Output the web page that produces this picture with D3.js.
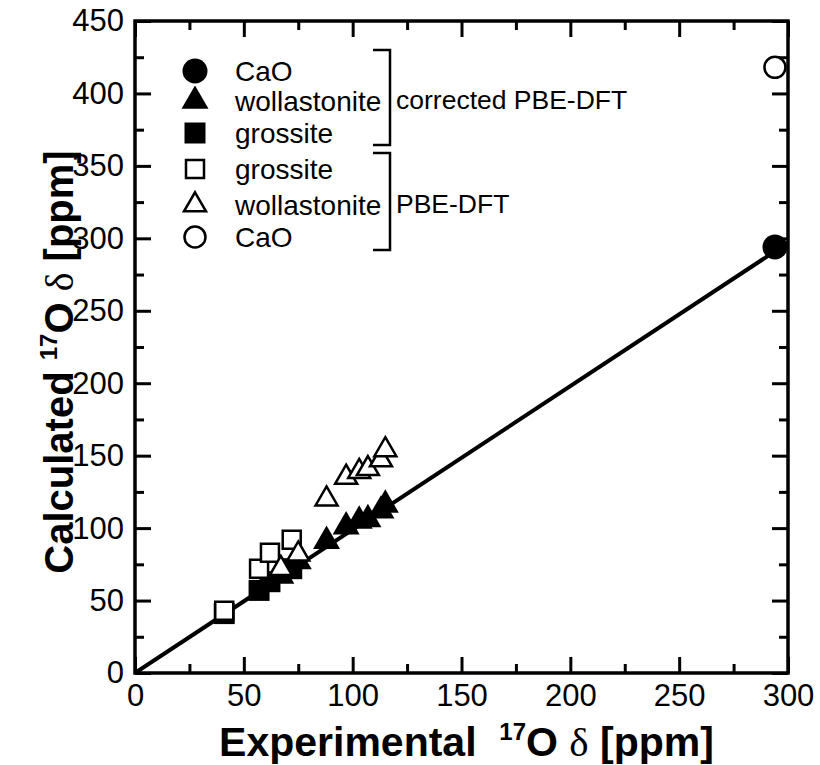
<!DOCTYPE html>
<html>
<head>
<meta charset="utf-8">
<script src="https://cdn.jsdelivr.net/npm/d3@7"></script>
<style>
  body { margin: 0; background: #fff; }
  text { font-family: "Liberation Sans", Arial, Helvetica, sans-serif; fill: #000; }
</style>
</head>
<body>
<svg id="chart" width="820" height="765"></svg>
<script>
// values (ppm)
const caoExp = [294]
const caoPBE = [418]
const caoCorr = [294]

const wollExp = [67, 75, 88, 97, 103, 107, 113, 115]
const wollPBE = [72, 82, 120, 135, 139, 141, 147, 154]
const wollCorr = [67, 77, 91, 101, 105, 106, 112, 116]

const grossExp = [41, 57, 62, 72]
const grossPBE = [43, 72, 83, 92]
const grossCorr = [41, 57, 63, 72]

const fitLine = [[0, 0], [300, 297]]

const majorTicks = [0, 50, 100, 150, 200, 250, 300, 350, 400, 450]
const minorTicks = [25, 75, 125, 175, 225, 275, 325, 375, 425]

const legendRows = [
  { label: "CaO", shape: "circle", filled: true },
  { label: "wollastonite", shape: "triangle", filled: true },
  { label: "grossite", shape: "square", filled: true },
  { label: "grossite", shape: "square", filled: false },
  { label: "wollastonite", shape: "triangle", filled: false },
  { label: "CaO", shape: "circle", filled: false }
]

const svg = d3.select("#chart")

// plot box in pixels (note: "top" is taken by window.top)
const pLeft = 135, pRight = 788, pTop = 21, pBottom = 673

const x = d3.scaleLinear().domain([0, 300]).range([pLeft, pRight])
const y = d3.scaleLinear().domain([0, 450]).range([pBottom, pTop])

// symbol sizes (area)
const SYM = {
  circle: { filled: d3.symbol(d3.symbolCircle, Math.PI * 12.5 * 12.5), open: d3.symbol(d3.symbolCircle, Math.PI * 10.5 * 10.5) },
  triangle: { filled: d3.symbol(d3.symbolTriangle, 27 * 27 * Math.sqrt(3) / 4), open: d3.symbol(d3.symbolTriangle, 22 * 22 * Math.sqrt(3) / 4) },
  square: { filled: d3.symbol(d3.symbolSquare, 21 * 21), open: d3.symbol(d3.symbolSquare, 18 * 18) }
}

function drawAxis(axisGen, tx, ty, cls) {
  const g = svg.append("g")
    .attr("class", cls)
    .attr("transform", `translate(${tx},${ty})`)
    .call(axisGen)
  g.selectAll(".tick line").attr("stroke", "#000").attr("stroke-width", 3)
  g.select(".domain").remove()
  g.selectAll("text").style("font-size", "31px").attr("fill", "#000")
  return g
}

// major + minor ticks on all four sides, pointing inward
const xMaj = majorTicks.filter(d => d <= 300)
const xMin = minorTicks.filter(d => d <= 300)

drawAxis(d3.axisBottom(x).tickValues(xMaj).tickSize(-16).tickPadding(11).tickFormat(d3.format("d")), 0, pBottom, "xb")
drawAxis(d3.axisBottom(x).tickValues(xMin).tickSize(-9).tickFormat(""), 0, pBottom, "xbm")
drawAxis(d3.axisTop(x).tickValues(xMaj).tickSize(-16).tickFormat(""), 0, pTop, "xt")
drawAxis(d3.axisTop(x).tickValues(xMin).tickSize(-9).tickFormat(""), 0, pTop, "xtm")

drawAxis(d3.axisLeft(y).tickValues(majorTicks).tickSize(-16).tickPadding(11).tickFormat(d3.format("d")), pLeft, 0, "yl")
drawAxis(d3.axisLeft(y).tickValues(minorTicks).tickSize(-9).tickFormat(""), pLeft, 0, "ylm")
drawAxis(d3.axisRight(y).tickValues(majorTicks).tickSize(-16).tickFormat(""), pRight, 0, "yr")
drawAxis(d3.axisRight(y).tickValues(minorTicks).tickSize(-9).tickFormat(""), pRight, 0, "yrm")

// frame
svg.append("rect")
  .attr("x", pLeft).attr("y", pTop)
  .attr("width", pRight - pLeft).attr("height", pBottom - pTop)
  .attr("fill", "none").attr("stroke", "#000").attr("stroke-width", 3.5)

// clip so markers at the edge get cut like in the original
svg.append("clipPath").attr("id", "plotclip")
  .append("rect").attr("x", pLeft).attr("y", pTop)
  .attr("width", pRight - pLeft).attr("height", pBottom - pTop)

const plot = svg.append("g").attr("clip-path", "url(#plotclip)")

plot.append("path")
  .datum(fitLine)
  .attr("d", d3.line().x(d => x(d[0])).y(d => y(d[1])))
  .attr("stroke", "#000").attr("stroke-width", 4).attr("fill", "none")

function drawSeries(xs, ys, shape, filled) {
  const pts = xs.map((v, i) => [v, ys[i]])
  plot.append("g").selectAll("path")
    .data(pts)
    .join("path")
    .attr("transform", d => `translate(${x(d[0])},${y(d[1])})`)
    .attr("d", filled ? SYM[shape].filled : SYM[shape].open)
    .attr("fill", filled ? "#000" : "#fff")
    .attr("stroke", "#000")
    .attr("stroke-width", filled ? 0 : 2.5)
}

// filled (corrected) first, open (plain PBE) on top
drawSeries(grossExp, grossCorr, "square", true)
drawSeries(wollExp, wollCorr, "triangle", true)
drawSeries(caoExp, caoCorr, "circle", true)
drawSeries(grossExp, grossPBE, "square", false)
drawSeries(wollExp, wollPBE, "triangle", false)
drawSeries(caoExp, caoPBE, "circle", false)

// legend
const rowY = [71, 101, 133, 169, 205, 237]
const leg = svg.append("g")
legendRows.forEach((r, i) => {
  leg.append("path")
    .attr("transform", `translate(195,${rowY[i]})`)
    .attr("d", r.filled ? SYM[r.shape].filled : SYM[r.shape].open)
    .attr("fill", r.filled ? "#000" : "#fff")
    .attr("stroke", "#000")
    .attr("stroke-width", r.filled ? 0 : 2.5)
  leg.append("text")
    .attr("x", 235).attr("y", rowY[i])
    .attr("dy", "0.35em")
    .style("font-size", "28px")
    .text(r.label)
})

// brackets
function bracket(y1, y2) {
  leg.append("path")
    .attr("d", `M373,${y1}H390V${y2}H373`)
    .attr("fill", "none").attr("stroke", "#000").attr("stroke-width", 2.5)
}
bracket(50, 145)
bracket(153, 250)

leg.append("text").attr("x", 396).attr("y", 100).attr("dy", "0.35em")
  .style("font-size", "26.5px").text("corrected PBE-DFT")
leg.append("text").attr("x", 396).attr("y", 204).attr("dy", "0.35em")
  .style("font-size", "26.5px").text("PBE-DFT")

// axis titles
function title(sel, word, gap, size) {
  sel.style("font-size", size + "px").style("font-weight", "bold")
  sel.append("tspan").text(word + gap)
  sel.append("tspan").attr("dy", -16).style("font-size", "24px").text("17")
  sel.append("tspan").attr("dy", 16).text("O ")
  sel.append("tspan").style("font-family", "'Liberation Serif', 'Times New Roman', serif")
    .style("font-weight", "normal").text("\u03b4")
  sel.append("tspan").text(" [ppm]")
}

svg.append("text")
  .attr("x", (pLeft + pRight) / 2 + 5).attr("y", 756)
  .attr("text-anchor", "middle")
  .call(title, "Experimental", "\u00a0\u00a0", 41)

svg.append("text")
  .attr("transform", `translate(73,${(pTop + pBottom) / 2 + 15}) rotate(-90)`)
  .attr("text-anchor", "middle")
  .call(title, "Calculated", "\u00a0", 40)
</script>
</body>
</html>
